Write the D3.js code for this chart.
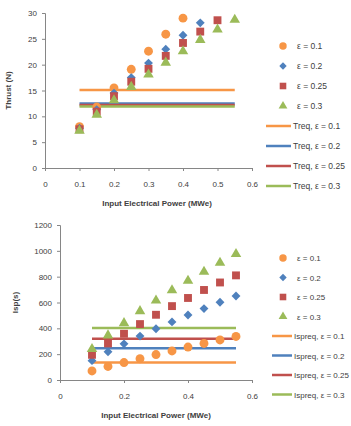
<!DOCTYPE html>
<html>
<head>
<meta charset="utf-8">
<script src="https://cdn.jsdelivr.net/npm/d3@7"></script>
<style>
  body { margin: 0; background: #fff; }
  svg { display: block; font-family: "Liberation Sans", Arial, sans-serif; }
  .tick text { fill: #404040; font-size: 8px; }
  .domain, .tick line { stroke: #868686; }
</style>
</head>
<body>
<svg id="chart" width="351" height="426"></svg>
<script>
// power values (MWe)
const power = [0.1, 0.15, 0.2, 0.25, 0.3, 0.35, 0.4, 0.45, 0.5, 0.55];
const eps = ["0.1", "0.2", "0.25", "0.3"];

// thrust (N) per epsilon
const thrust01 = [8.0, 11.8, 15.5, 19.1, 22.6, 25.9, 29.0];
const thrust02 = [7.7, 11.3, 14.5, 17.5, 20.3, 23.0, 25.7, 28.1];
const thrust025 = [7.5, 10.9, 13.9, 16.7, 19.2, 21.7, 24.2, 26.4, 28.6];
const thrust03 = [7.2, 10.3, 13.1, 15.7, 18.1, 20.4, 22.6, 24.8, 26.8, 28.7];
const treq = [15.1, 12.5, 12.2, 11.9];

// specific impulse (s) per epsilon
const isp01 = [70, 105, 135, 165, 197, 225, 255, 283, 310, 337];
const isp02 = [150, 218, 280, 340, 397, 450, 503, 553, 602, 650];
const isp025 = [195, 283, 358, 433, 505, 572, 635, 697, 755, 810];
const isp03 = [240, 345, 440, 533, 615, 695, 768, 838, 908, 975];
const ispreq = [135, 245, 320, 403];

const colors = ["#F79646", "#4F81BD", "#C0504D", "#9BBB59"];
const symbols = [d3.symbolCircle, d3.symbolDiamond2, d3.symbolSquare, d3.symbolTriangle];
const symSize = [62, 50, 62, 48];

const svg = d3.select("#chart");

function panel(cfg) {
  const g = svg.append("g");
  const x = d3.scaleLinear().domain([0, 0.6]).range([cfg.left, 252]);
  const y = d3.scaleLinear().domain([0, cfg.ymax]).range([cfg.bottom, cfg.top]);

  g.append("g")
    .attr("transform", `translate(0,${cfg.bottom})`)
    .call(d3.axisBottom(x).tickValues(cfg.xticks).tickSize(3).tickPadding(10)
      .tickFormat(d => d === 0 ? "0" : d3.format(".1f")(d)));
  g.append("g")
    .attr("transform", `translate(${cfg.left},0)`)
    .call(d3.axisLeft(y).tickValues(cfg.yticks).tickSize(3).tickPadding(5)
      .tickFormat(d3.format("d")));

  // required lines
  cfg.req.forEach((v, i) => {
    g.append("line")
      .attr("x1", x(0.1)).attr("x2", x(0.55))
      .attr("y1", y(v)).attr("y2", y(v))
      .attr("stroke", colors[i]).attr("stroke-width", 2.5);
  });

  // markers
  cfg.series.forEach((vals, i) => {
    g.selectAll(null)
      .data(vals)
      .enter()
      .append("path")
      .attr("d", d3.symbol().type(symbols[i]).size(symSize[i]))
      .attr("transform", (d, k) => `translate(${x(power[k])},${y(d)})`)
      .attr("fill", colors[i]);
  });

  g.append("text")
    .attr("x", cfg.xtitleX).attr("y", cfg.bottom + 38)
    .attr("text-anchor", "middle")
    .attr("font-size", 8).attr("font-weight", "bold").attr("fill", "#404040")
    .text("Input Electrical Power (MWe)");
  g.append("text")
    .attr("transform", `translate(${cfg.ytitleX},${(cfg.top + cfg.bottom) / 2}) rotate(-90)`)
    .attr("text-anchor", "middle")
    .attr("font-size", 8).attr("font-weight", "bold").attr("fill", "#404040")
    .text(cfg.ytitle);

  // legend
  const leg = g.append("g").attr("font-size", cfg.legFont).attr("fill", "#404040");
  eps.forEach((e, i) => {
    const ly = cfg.legTop + i * cfg.legStep;
    leg.append("path")
      .attr("d", d3.symbol().type(symbols[i]).size(symSize[i] * 0.7))
      .attr("transform", `translate(283,${ly})`)
      .attr("fill", colors[i]);
    leg.append("text").attr("x", 297).attr("y", ly + 3).text(`ε = ${e}`);
  });
  eps.forEach((e, i) => {
    const ly = cfg.legTop + (i + 4) * cfg.legStep;
    leg.append("line")
      .attr("x1", cfg.legLine[0]).attr("x2", cfg.legLine[1]).attr("y1", ly).attr("y2", ly)
      .attr("stroke", colors[i]).attr("stroke-width", 2.5);
    leg.append("text").attr("x", cfg.legLine[1] + 2).attr("y", ly + 3).text(`${cfg.reqName}, ε = ${e}`);
  });
}

panel({
  left: 45, top: 13, bottom: 168, ymax: 30,
  xticks: [0, 0.1, 0.2, 0.3, 0.4, 0.5, 0.6],
  yticks: [0, 5, 10, 15, 20, 25, 30],
  series: [thrust01, thrust02, thrust025, thrust03],
  req: treq, reqName: "Treq",
  ytitle: "Thrust (N)", ytitleX: 11, xtitleX: 157,
  legTop: 46, legStep: 20, legLine: [266, 291], legFont: 8.5
});

panel({
  left: 60, top: 225, bottom: 380, ymax: 1200,
  xticks: [0, 0.2, 0.4, 0.6],
  yticks: [0, 200, 400, 600, 800, 1000, 1200],
  series: [isp01, isp02, isp025, isp03],
  req: ispreq, reqName: "Ispreq",
  ytitle: "Isp(s)", ytitleX: 18, xtitleX: 156,
  legTop: 258, legStep: 19.5, legLine: [272, 292], legFont: 8
});
</script>
</body>
</html>
